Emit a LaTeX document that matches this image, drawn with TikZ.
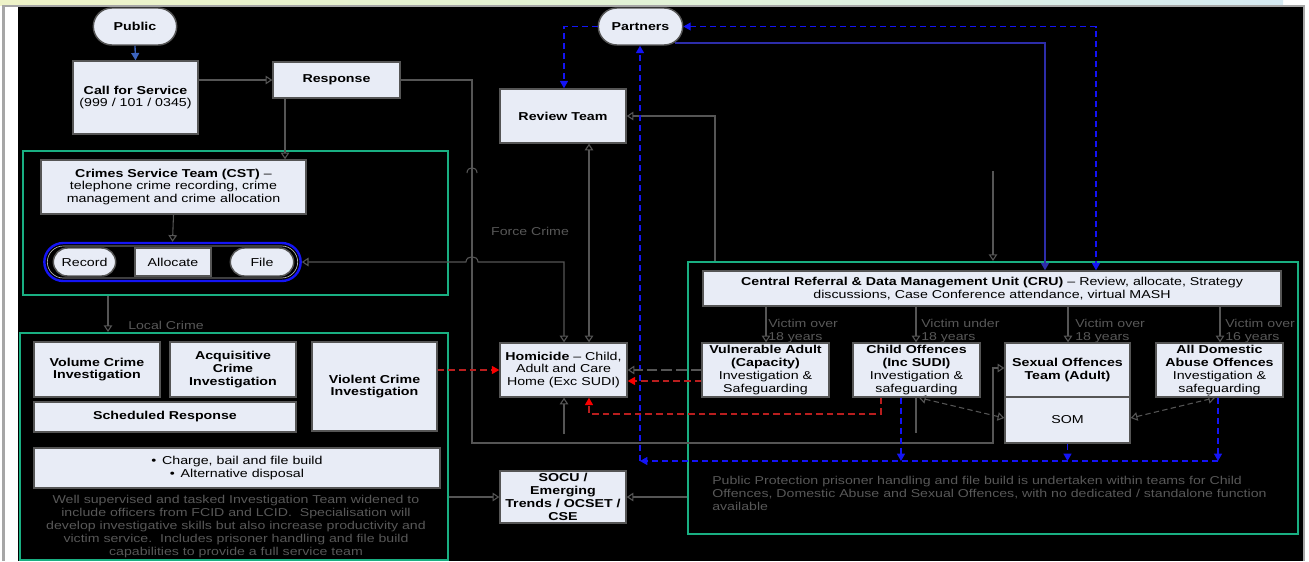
\documentclass[tikz,border=0pt]{standalone}
\usepackage{fontspec}
\setmainfont{Liberation Sans}[FakeStretch=1.24]
\usetikzlibrary{arrows.meta,shapes.misc}
\definecolor{boxfill}{RGB}{232,236,246}
\definecolor{boxdraw}{RGB}{85,85,85}
\definecolor{conncol}{RGB}{85,85,85}
\definecolor{lblcol}{RGB}{88,88,88}
\definecolor{tealgreen}{RGB}{25,175,130}
\definecolor{brightblue}{RGB}{20,20,245}
\definecolor{navyblue}{RGB}{45,45,170}
\definecolor{darkred}{RGB}{185,30,30}
\definecolor{redhead}{RGB}{250,0,0}
\definecolor{pubblue}{RGB}{60,100,190}
\newcommand\Bx[7][]{\node[bx,#1,minimum width={(#5-#3)*0.75pt},minimum height={(#6-#4)*0.75pt}] (#2) at ({(#3+#5)/2},{(#4+#6)/2}) {#7};}
\begin{document}
\begin{tikzpicture}[x=0.75pt,y=-0.75pt,
  font=\fontsize{8.6}{9.6}\selectfont,
  bx/.style={draw=boxdraw,fill=boxfill,line width=1.1pt,inner sep=1pt,align=center,text=black},
  stad/.style={rounded rectangle},
  gframe/.style={draw=tealgreen,fill=none,line width=1.6pt},
  conn/.style={draw=conncol,line width=0.8pt},
  oarr/.style={-{Triangle[open,length=5pt,width=6.5pt]}},
  oboth/.style={{Triangle[open,length=5pt,width=6.5pt]}-{Triangle[open,length=5pt,width=6.5pt]}},
  bluedash/.style={draw=brightblue,line width=0.9pt,dash pattern=on 4.5pt off 3pt},
  barr/.style={-{Triangle[length=5.5pt,width=6pt]}},
  bboth/.style={{Triangle[length=5.5pt,width=6pt]}-{Triangle[length=5.5pt,width=6pt]}},
  reddash/.style={draw=darkred,line width=0.9pt,dash pattern=on 5pt off 3pt},
  rarr/.style={-{Triangle[length=5.5pt,width=6pt,color=redhead]}},
  lbl/.style={text=lblcol,inner sep=0pt,font=\fontsize{8.55}{9.6}\selectfont}
]
\useasboundingbox (0,0) rectangle (1309,561);
% background
\fill[white] (0,0) rectangle (1309,561);
\shade[left color={rgb,255:red,238;green,243;blue,200},right color={rgb,255:red,214;green,234;blue,242},middle color={rgb,255:red,226;green,242;blue,214}] (0,0) rectangle (1283,5);
\fill[black] (18,6) rectangle (1303,561);
\fill[gray!70] (2,5) rectangle (5,561);
\fill[gray!70] (2,5) rectangle (1305,6.5);
\fill[gray!70] (1303,5) rectangle (1305,561);

% green frames
\Bx[gframe]{gcst}{23}{151}{448}{295}{}
\Bx[gframe]{gloc}{20}{333}{448}{560}{}
\Bx[gframe]{gcru}{688}{262}{1298}{534}{}

% left column
\Bx[stad]{pub}{92}{8}{178}{45}{\textbf{Public}}
\Bx{call}{73}{61}{198}{134}{\textbf{Call for Service}\\(999 / 101 / 0345)}
\Bx{resp}{273}{62}{400}{98}{\textbf{Response}}
\Bx{cst}{41}{160}{306}{214}{\textbf{Crimes Service Team (CST)} –\\telephone crime recording, crime\\management and crime allocation}
\Bx[stad,draw=brightblue,fill=none,line width=1.8pt]{grp}{43}{243}{302}{281}{}
\Bx[stad,draw=gray!60,fill=none,line width=0.5pt]{grpin}{46}{246}{299}{278}{}
\Bx[stad]{rec}{52}{248}{117}{276}{Record}
\Bx{alloc}{135}{248}{211}{276}{Allocate}
\Bx[stad]{file}{229}{248}{295}{276}{File}
\Bx{vol}{34}{342}{160}{397}{\textbf{Volume Crime}\\\textbf{Investigation}}
\Bx{acq}{170}{342}{296}{397}{\textbf{Acquisitive}\\\textbf{Crime}\\\textbf{Investigation}}
\Bx{sched}{34}{402}{296}{432}{\textbf{Scheduled Response}}
\Bx{viol}{312}{342}{437}{431}{\textbf{Violent Crime}\\\textbf{Investigation}}
\Bx{charge}{34}{448}{440}{488}{•\enspace Charge, bail and file build\\•\enspace Alternative disposal}
\node[lbl,align=center,font=\fontsize{8.55}{9.75}\selectfont] (locpar) at (236,527) {Well supervised and tasked Investigation Team widened to\\include officers from FCID and LCID.\ \ Specialisation will\\develop investigative skills but also increase productivity and\\victim service.\ \ Includes prisoner handling and file build\\capabilities to provide a full service team};
\node[lbl,anchor=west] (loccrime) at (128,325) {Local Crime};

% middle column
\Bx[stad]{partners}{597}{8}{684}{45}{\textbf{Partners}}
\Bx{review}{500}{89}{626}{143}{\textbf{Review Team}}
\Bx{hom}{500}{343}{627}{397}{\textbf{Homicide} – Child,\\Adult and Care\\Home (Exc SUDI)}
\Bx{socu}{500}{471}{626}{523}{\textbf{SOCU /}\\\textbf{Emerging}\\\textbf{Trends / OCSET /}\\\textbf{CSE}}
\node[lbl] (force) at (530,231) {Force Crime};

% right block
\Bx{cru}{703}{271}{1281}{306}{\textbf{Central Referral \& Data Management Unit (CRU)} – Review, allocate, Strategy\\discussions, Case Conference attendance, virtual MASH}
\Bx{va}{702}{343}{829}{397}{\textbf{Vulnerable Adult}\\\textbf{(Capacity)}\\Investigation \&\\Safeguarding}
\Bx{co}{853}{343}{980}{397}{\textbf{Child Offences}\\\textbf{(Inc SUDI)}\\Investigation \&\\safeguarding}
\Bx{sot}{1005}{343}{1130}{397}{\textbf{Sexual Offences}\\\textbf{Team (Adult)}}
\Bx{som}{1005}{397}{1130}{443}{SOM}
\Bx{dom}{1156}{343}{1283}{397}{\textbf{All Domestic}\\\textbf{Abuse Offences}\\Investigation \&\\safeguarding}
\node[lbl,anchor=west,align=left] (l1) at (768,331) {Victim over\\18 years};
\node[lbl,anchor=west,align=left] (l2) at (921,331) {Victim under\\18 years};
\node[lbl,anchor=west,align=left] (l3) at (1075,331) {Victim over\\18 years};
\node[lbl,anchor=west,align=left] (l4) at (1225,331) {Victim over\\16 years};
\node[lbl,anchor=north west,align=left,font=\fontsize{8.55}{9.75}\selectfont] (pp) at (712,476) {Public Protection prisoner handling and file build is undertaken within teams for Child\\Offences, Domestic Abuse and Sexual Offences, with no dedicated / standalone function\\available};

% free ends
\coordinate (cruin) at (993,171);
\coordinate (homin) at (564,434);
\coordinate (coend) at (916,433);
\coordinate (bc1) at (1218,461);
\coordinate (bc0) at (640,461);

% connectors
\draw[draw=pubblue,line width=1pt,barr] (pub.south) -- (call.north);
\draw[conn,oarr] (call.east |- resp.west) -- (resp.west);
\draw[conn,oarr] (resp.south -| 285,0) -- (cst.north -| 285,0);
\draw[conn,oarr] (resp.east) -- (472,80) -- (472,443) -- (993,443) -- (993,368) -- (sot.west |- 0,368);
\draw[conn] (467,173) .. controls (467,166) and (477,166) .. (477,173);
\draw[conn,oarr] (cst.south) -- (grp.north);
\draw[conn,oarr] (gcst.south -| 108,0) -- (gloc.north -| 108,0);
\draw[conn,oboth] (grp.east) -- (466,262) .. controls (466,255) and (478,255) .. (478,262) -- (564,262) -- (hom.north -| 564,0);
\draw[conn,oboth] (review.south -| 589,0) -- (hom.north -| 589,0);
\draw[conn,oarr] (gcru.north -| 715,0) -- (715,116) -- (review.east |- 0,116);
\draw[conn,oarr] (cruin) -- (gcru.north -| 993,0);
\draw[bluedash,barr] (partners.west) -- (564,26.5) -- (review.north -| 564,0);
\draw[bluedash,bboth] (partners.east) -- (1096,26.5) -- (cru.north -| 1096,0);
\draw[draw=navyblue,line width=1pt,barr] (675,43) -- (1045,43) -- (cru.north -| 1045,0);
\draw[bluedash,barr] (co.south -| 901,0) -- (901,461);
\draw[bluedash,barr] (som.south) -- (1067.5,461);
\draw[bluedash,barr] (dom.south -| 1218,0) -- (bc1);
\draw[bluedash,barr] (bc1) -- (bc0);
\draw[bluedash,barr] (bc0) -- (partners.south -| 640,0);
\draw[conn,oarr] (cru.south -| 766,0) -- (va.north -| 766,0);
\draw[conn,oarr] (cru.south -| 916,0) -- (co.north -| 916,0);
\draw[conn,oarr] (cru.south -| 1068,0) -- (sot.north -| 1068,0);
\draw[conn,oarr] (cru.south -| 1220,0) -- (dom.north -| 1220,0);
\draw[conn,oarr,dash pattern=on 8pt off 3pt] (va.west |- 0,370) -- (hom.east |- 0,370);
\draw[reddash,rarr] (va.west |- 0,381) -- (hom.east |- 0,381);
\draw[reddash,rarr] (co.south -| 881,0) -- (881,414) -- (589,414) -- (hom.south -| 589,0);
\draw[reddash,rarr] (viol.east |- 0,370) -- (hom.west |- 0,370);
\draw[conn,oarr] (homin) -- (hom.south -| 564,0);
\draw[conn] (co.south -| 916,0) -- (coend);
\draw[conn,oboth,dash pattern=on 4pt off 2.5pt] (co.south -| 919,0) -- (som.west |- 0,418);
\draw[conn,oboth,dash pattern=on 4pt off 2.5pt] (som.east |- 0,418) -- (dom.south -| 1215,0);
\draw[conn,oarr] (gloc.east |- 0,497) -- (socu.west |- 0,497);
\draw[conn,oarr] (gcru.west |- 0,497) -- (socu.east |- 0,497);
\end{tikzpicture}
\end{document}
